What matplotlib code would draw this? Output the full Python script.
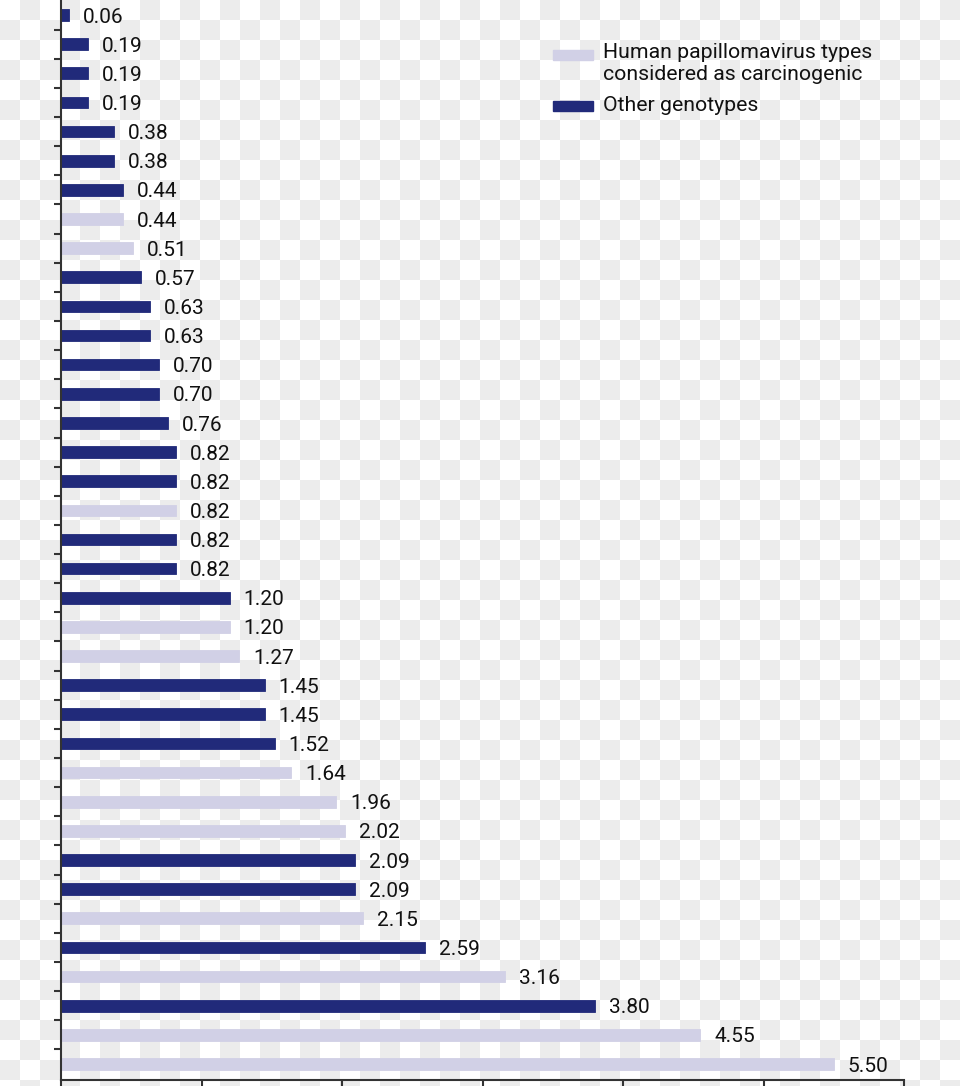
import numpy as np
import matplotlib
matplotlib.use('Agg')
import matplotlib.pyplot as plt
from matplotlib.patches import Rectangle
from matplotlib.colors import ListedColormap

plt.rcParams['font.family'] = ['Roboto', 'DejaVu Sans']

# bar values, top to bottom
values = [0.06, 0.19, 0.19, 0.19, 0.38, 0.38, 0.44, 0.44, 0.51, 0.57,
          0.63, 0.63, 0.70, 0.70, 0.76, 0.82, 0.82, 0.82, 0.82, 0.82,
          1.20, 1.20, 1.27, 1.45, 1.45, 1.52, 1.64, 1.96, 2.02, 2.09,
          2.09, 2.15, 2.59, 3.16, 3.80, 4.55, 5.50]
# True = carcinogenic HPV type
carcinogenic = [False, False, False, False, False, False, False, True, True, False,
                False, False, False, False, False, False, False, True, False, False,
                False, True, True, False, False, False, True, True, True, False,
                False, True, False, True, False, True, True]
legend_labels = ['Human papillomavirus types\nconsidered as carcinogenic',
                 'Other genotypes']

DARK = '#212a7a'
LIGHT = '#d1d0e6'

W, H = 960, 1086
fig = plt.figure(figsize=(W / 100, H / 100), dpi=100)

# transparency-style checkerboard background
bg = fig.add_axes([0, 0, 1, 1], zorder=-1)
rows, cols = np.indices((H // 20 + 1, W // 20 + 1))
bg.imshow((rows + cols) % 2, cmap=ListedColormap(['white', '#ececec']),
          extent=(0, (W // 20 + 1) * 20, (H // 20 + 1) * 20, 0),
          interpolation='nearest', aspect='auto')
bg.set_xlim(0, W)
bg.set_ylim(H, 0)
bg.axis('off')

ax = fig.add_axes([61 / W, 6 / H, (904 - 61) / W, 1 - 6 / H])
ax.set_facecolor('none')

y = np.arange(len(values))
colors = [LIGHT if c else DARK for c in carcinogenic]
ax.barh(y, values, height=0.40, color=colors, edgecolor=colors, linewidth=0.6)

for yi, v in zip(y, values):
    ax.annotate(f'{v:.2f}', (v, yi), xytext=(10, -1.5), textcoords='offset points',
                ha='left', va='center', fontsize=15, color='#111111')

ax.set_xlim(0, 6)
ax.set_ylim(len(values) - 0.45, -0.515)
ax.set_xticks(range(7))
ax.set_xticklabels([])
ax.set_yticks(np.arange(len(values) - 1) + 0.5)
ax.set_yticklabels([])
ax.tick_params(axis='both', direction='out', length=5, width=1.5, color='#333333')
for side in ['top', 'right']:
    ax.spines[side].set_visible(False)
for side in ['left', 'bottom']:
    ax.spines[side].set_color('#333333')
    ax.spines[side].set_linewidth(1.5)

# legend, handle aligned with the first line of each label (pixel rows from top)
for (hy, ty, col, lab) in [(55, 43, LIGHT, legend_labels[0]), (106, 96, DARK, legend_labels[1])]:
    fig.patches.append(Rectangle((553 / W, (H - hy - 5) / H), 40 / W, 10 / H,
                                 transform=fig.transFigure, facecolor=col, edgecolor=col))
    fig.text(603 / W, (H - ty) / H, lab, ha='left', va='top', fontsize=15.3,
             color='#111111', linespacing=1.18)

fig.savefig('out.png', dpi=100)
